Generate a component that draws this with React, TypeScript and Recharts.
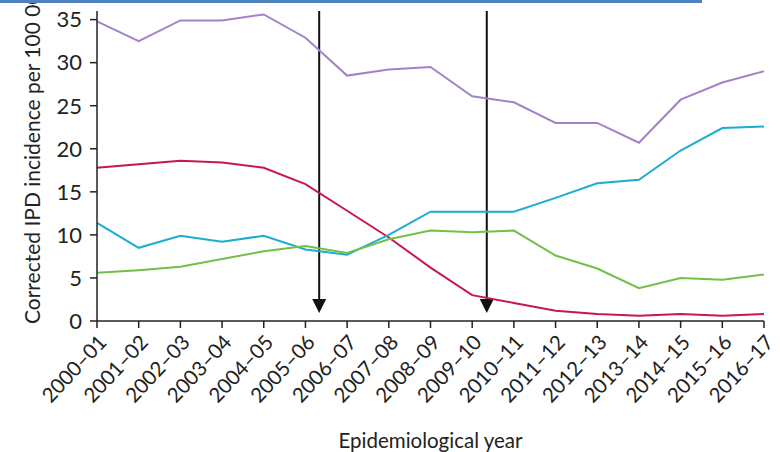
import React from 'react';
import { LineChart, Line, XAxis, YAxis, ReferenceLine } from 'recharts';

const years = [
  '2000–01', '2001–02', '2002–03', '2003–04', '2004–05', '2005–06', '2006–07', '2007–08', '2008–09',
  '2009–10', '2010–11', '2011–12', '2012–13', '2013–14', '2014–15', '2015–16', '2016–17',
];

const allIpd = [34.8, 32.5, 34.9, 34.9, 35.6, 32.9, 28.5, 29.2, 29.5, 26.1, 25.4, 23.0, 23.0, 20.7, 25.7, 27.7, 29.0];
const pcv7Types = [17.8, 18.2, 18.6, 18.4, 17.8, 15.9, 12.8, 9.7, 6.2, 3.0, 2.1, 1.2, 0.8, 0.6, 0.8, 0.6, 0.8];
const nonPcv13Types = [11.4, 8.5, 9.9, 9.2, 9.9, 8.3, 7.7, 10.0, 12.7, 12.7, 12.7, 14.3, 16.0, 16.4, 19.8, 22.4, 22.6];
const pcv13ExtraTypes = [5.6, 5.9, 6.3, 7.2, 8.1, 8.7, 7.9, 9.5, 10.5, 10.3, 10.5, 7.6, 6.1, 3.8, 5.0, 4.8, 5.4];

// vaccine introductions, as position along the year index
const vaccineMarks = [5.33, 9.35];
const yTicks = [0, 5, 10, 15, 20, 25, 30, 35];

const data = years.map((y, i) => ({
  idx: i,
  all: allIpd[i],
  pcv7: pcv7Types[i],
  non13: nonPcv13Types[i],
  extra13: pcv13ExtraTypes[i],
}));

const FONT = 'Lato, "Open Sans", sans-serif';

const YearTick = (props: any) => {
  const { x, y, payload } = props;
  return (
    <g transform={`translate(${x + 2},${y + 5})`}>
      <text x={0} y={0} dy={12} textAnchor="end" transform="rotate(-47)" fill="#222" fontSize={20.5} fontFamily={FONT}>
        {years[payload.value]}
      </text>
    </g>
  );
};

const Arrow = (props: any) => {
  const { x1, y1, y2 } = props;
  const top = Math.min(y1, y2);
  const bottom = Math.max(y1, y2) - 8;
  return (
    <g>
      <line x1={x1} x2={x1} y1={top} y2={bottom - 12} stroke="#111" strokeWidth={2} />
      <polygon points={`${x1 - 7},${bottom - 14} ${x1 + 7},${bottom - 14} ${x1},${bottom}`} fill="#111" />
    </g>
  );
};

const YLabel = () => (
  <text x={40} y={324} transform="rotate(-90 40 324)" fill="#222" fontSize={21} fontFamily={FONT}>
    Corrected IPD incidence per 100 000
  </text>
);

export default function App() {
  return (
    <div style={{ position: 'absolute', left: 0, top: 0, width: 780, height: 452, background: '#fff', overflow: 'hidden' }}>
      <div style={{ position: 'absolute', left: 0, top: 0, width: 702, height: 3, background: '#4f81bd', zIndex: 2 }} />
      <LineChart width={780} height={452} data={data} margin={{ top: 11, right: 16, bottom: 0, left: 0 }}>
        <XAxis
          dataKey="idx"
          type="number"
          domain={[0, 16]}
          ticks={data.map(d => d.idx)}
          interval={0}
          tick={<YearTick />}
          tickSize={7}
          height={131}
          stroke="#222"
          strokeWidth={1.5}
          label={{ value: 'Epidemiological year', position: 'insideBottom', offset: 4, fill: '#222', fontSize: 20.5, fontFamily: FONT }}
        />
        <YAxis
          domain={[0, 36]}
          ticks={yTicks}
          width={97}
          tickSize={7}
          tickMargin={8}
          stroke="#222"
          strokeWidth={1.5}
          tick={{ fill: '#222', fontSize: 22, fontFamily: FONT }}
          label={<YLabel />}
        />
        {vaccineMarks.map(v => (
          <ReferenceLine key={v} x={v} shape={<Arrow />} />
        ))}
        <Line dataKey="all" stroke="#a283c9" strokeWidth={2} dot={false} isAnimationActive={false} />
        <Line dataKey="pcv7" stroke="#c8174f" strokeWidth={2} dot={false} isAnimationActive={false} />
        <Line dataKey="non13" stroke="#1cadd0" strokeWidth={2} dot={false} isAnimationActive={false} />
        <Line dataKey="extra13" stroke="#72c04a" strokeWidth={2} dot={false} isAnimationActive={false} />
      </LineChart>
    </div>
  );
}
